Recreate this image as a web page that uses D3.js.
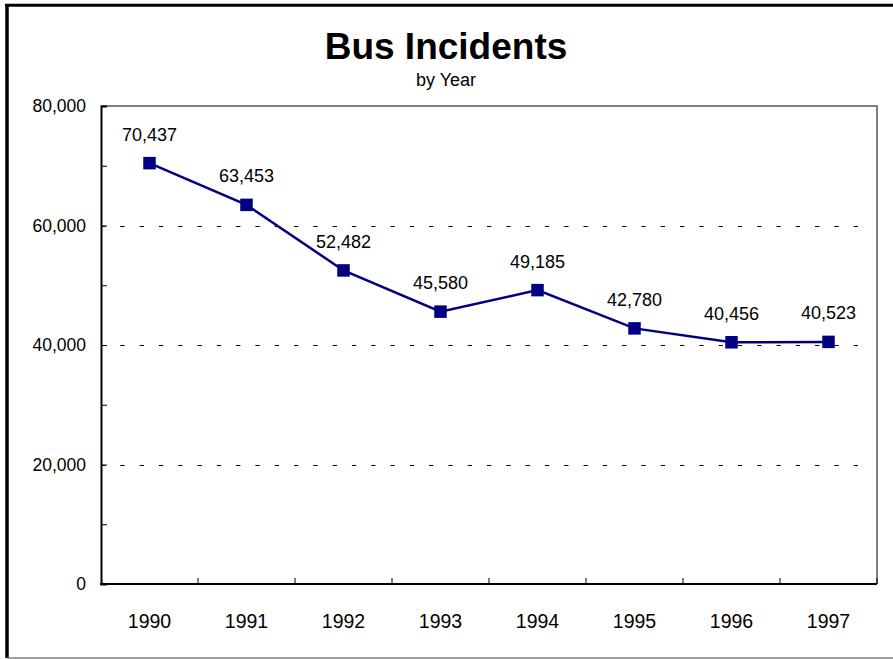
<!DOCTYPE html>
<html>
<head>
<meta charset="utf-8">
<script src="https://cdn.jsdelivr.net/npm/d3@7"></script>
<style>
  html, body { margin: 0; padding: 0; background: #fff; }
  svg { display: block; font-family: "Liberation Sans", Arial, sans-serif; }
</style>
</head>
<body>
<svg id="chart" width="893" height="659"></svg>
<script>
const years = ["1990", "1991", "1992", "1993", "1994", "1995", "1996", "1997"];
const incidents = [70437, 63453, 52482, 45580, 49185, 42780, 40456, 40523];
const yTicks = [0, 20000, 40000, 60000, 80000];
const yMinorTicks = [10000, 30000, 50000, 70000];
const gridValues = [20000, 40000, 60000];
const titleText = "Bus Incidents";
const subtitleText = "by Year";

const svg = d3.select("#chart");
const W = 893, H = 659;
const plot = { left: 101, right: 877, top: 106, bottom: 584 };

// outer frame
svg.append("line").attr("x1", 7).attr("x2", 7).attr("y1", 4).attr("y2", 658)
  .attr("stroke", "#000").attr("stroke-width", 3.5);
svg.append("line").attr("x1", 5).attr("x2", W).attr("y1", 5.3).attr("y2", 5.3)
  .attr("stroke", "#000").attr("stroke-width", 3);
svg.append("line").attr("x1", 7).attr("x2", W).attr("y1", 658).attr("y2", 658)
  .attr("stroke", "#808080").attr("stroke-width", 1.5);

// title
svg.append("text").attr("x", 446).attr("y", 59).attr("text-anchor", "middle")
  .attr("font-size", 37).attr("font-weight", "bold").attr("fill", "#000").text(titleText);
svg.append("text").attr("x", 446).attr("y", 85.5).attr("text-anchor", "middle")
  .attr("font-size", 18).attr("fill", "#000").text(subtitleText);

const x = d3.scaleBand().domain(years).range([plot.left, plot.right]).padding(0);
const y = d3.scaleLinear().domain([0, 80000]).range([plot.bottom, plot.top]);

// gridlines
svg.append("g").selectAll("line").data(gridValues).join("line")
  .attr("x1", plot.left).attr("x2", plot.right - 8)
  .attr("y1", d => Math.round(y(d)) + 0.5).attr("y2", d => Math.round(y(d)) + 0.5)
  .attr("stroke", "#000").attr("stroke-width", 1)
  .attr("stroke-dasharray", "4.3,15");

// plot border top and right (gray)
svg.append("path")
  .attr("d", `M${plot.left},${plot.top}H${plot.right}V${plot.bottom}`)
  .attr("fill", "none").attr("stroke", "#808080").attr("stroke-width", 2);

// y axis
const yAxis = d3.axisRight(y).tickValues(yTicks.concat(yMinorTicks)).tickSize(6).tickFormat("");
const gy = svg.append("g").attr("transform", `translate(${plot.left},0)`).call(yAxis);
gy.select(".domain").attr("stroke", "#000").attr("stroke-width", 2);
gy.selectAll(".tick line").attr("stroke", "#000").attr("stroke-width", 1);

svg.append("g").selectAll("text").data(yTicks).join("text")
  .attr("x", 86).attr("y", d => y(d)).attr("dy", "0.35em")
  .attr("text-anchor", "end").attr("font-size", 17.5).attr("fill", "#000")
  .text(d => d3.format(",")(d));

// x axis with ticks between categories
const boundaries = years.slice(1).map(yr => x(yr)).concat([plot.right]);
const xAxisG = svg.append("g");
xAxisG.append("line").attr("x1", plot.left - 1).attr("x2", plot.right)
  .attr("y1", plot.bottom).attr("y2", plot.bottom)
  .attr("stroke", "#000").attr("stroke-width", 2);
xAxisG.selectAll("line.tk").data(boundaries).join("line").attr("class", "tk")
  .attr("x1", d => d).attr("x2", d => d)
  .attr("y1", plot.bottom).attr("y2", plot.bottom - 6)
  .attr("stroke", "#000").attr("stroke-width", 1);
xAxisG.selectAll("text").data(years).join("text")
  .attr("x", d => x(d) + x.bandwidth() / 2).attr("y", 628)
  .attr("text-anchor", "middle").attr("font-size", 19.5).attr("fill", "#000")
  .text(d => d);

// line series
const data = years.map((yr, i) => ({ year: yr, value: incidents[i] }));
const line = d3.line().x(d => x(d.year) + x.bandwidth() / 2).y(d => y(d.value));
svg.append("path").datum(data).attr("d", line)
  .attr("fill", "none").attr("stroke", "#000080").attr("stroke-width", 2.5);

const ms = 12.5;
svg.append("g").selectAll("rect").data(data).join("rect")
  .attr("x", d => x(d.year) + x.bandwidth() / 2 - ms / 2)
  .attr("y", d => y(d.value) - ms / 2)
  .attr("width", ms).attr("height", ms)
  .attr("fill", "#000080");

svg.append("g").selectAll("text").data(data).join("text")
  .attr("x", d => x(d.year) + x.bandwidth() / 2)
  .attr("y", d => y(d.value) - 22.5)
  .attr("text-anchor", "middle").attr("font-size", 18).attr("fill", "#000")
  .text(d => d3.format(",")(d.value));
</script>
</body>
</html>
